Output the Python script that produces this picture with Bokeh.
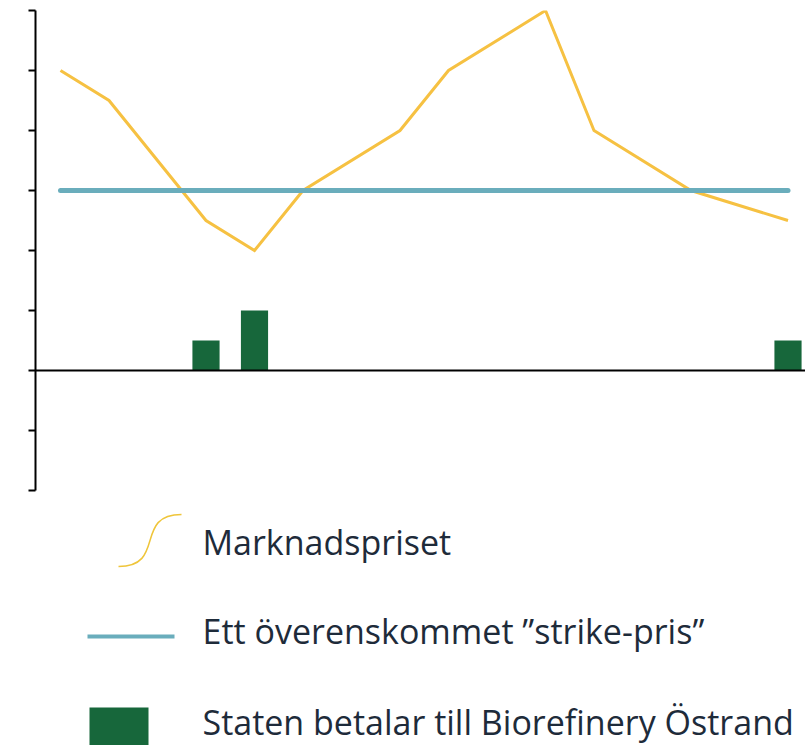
from bokeh.plotting import figure
from bokeh.models import Range1d, FixedTicker, Span
from bokeh.core.properties import value
from bokeh.embed import file_html
from bokeh.resources import INLINE

# ---- data ----
market_x = [0, 1, 3, 4, 5, 7, 8, 10, 11, 13, 15]
market_y = [5, 4.5, 2.5, 2, 3, 4, 5, 6, 4, 3, 2.5]
strike_x = [0, 15]
strike_y = [3, 3]
pay_x = [3, 4, 15]
pay_y = [0.5, 1, 0.5]
y_ticks = [-2, -1, 0, 1, 2, 3, 4, 5, 6]
legend_labels = ["Marknadspriset", "Ett överenskommet ”strike-pris”",
                 "Staten betalar till Biorefinery Östrand"]

# ---- colours ----
YELLOW = "#F6C142"
BLUE = "#6AADBC"
GREEN = "#17673B"
TEXT = "#1E2B3A"

# ---- layout (pixels) ----
FRAME_LEFT, FRAME_TOP = 35, 10          # picture coords of the frame corner
FRAME_W, FRAME_H = 770, 735
PX_PER_X, PX_PER_Y = 48.5, 60.0
X0 = -(60 - FRAME_LEFT) / PX_PER_X
Y1 = 6.0


def dx(px):
    return X0 + (px - FRAME_LEFT) / PX_PER_X


def dy(py):
    return Y1 - (py - FRAME_TOP) / PX_PER_Y


p = figure(frame_width=FRAME_W, frame_height=FRAME_H,
           x_range=Range1d(X0, X0 + FRAME_W / PX_PER_X),
           y_range=Range1d(Y1 - FRAME_H / PX_PER_Y, Y1),
           output_backend="svg", toolbar_location=None,
           x_axis_location=None, y_axis_location="left",
           min_border_left=FRAME_LEFT, min_border_top=FRAME_TOP,
           min_border_right=0, min_border_bottom=0)
p.outline_line_color = None
p.grid.visible = False
p.background_fill_color = "white"
p.border_fill_color = "white"

ax = p.yaxis[0]
ax.bounds = (min(y_ticks), max(y_ticks))
ax.ticker = FixedTicker(ticks=y_ticks, minor_ticks=[])
ax.major_tick_out = 7
ax.major_tick_in = 0
ax.minor_tick_line_color = None
ax.axis_line_width = 2
ax.major_tick_line_width = 2
ax.axis_line_color = "black"
ax.major_tick_line_color = "black"
ax.major_label_overrides = {t: "" for t in y_ticks}
ax.major_label_standoff = 0

# bars
p.vbar(x=pay_x, top=pay_y, bottom=0, width=0.56, fill_color=GREEN, line_color=None)
# market price
p.line(market_x, market_y, line_color=YELLOW, line_width=3, line_join="miter")
# strike price
p.line(strike_x, strike_y, line_color=BLUE, line_width=5, line_cap="round")
# zero line
p.add_layout(Span(location=0, dimension="width", line_color="black", line_width=2))

# ---- legend (custom) ----
p.bezier(x0=[dx(118)], y0=[dy(566)], x1=[dx(181)], y1=[dy(514)],
         cx0=[dx(166)], cy0=[dy(566)], cx1=[dx(133)], cy1=[dy(514)],
         line_color="#EFC53A", line_width=1.5)
p.line([dx(87), dx(174)], [dy(636), dy(636)], line_color=BLUE, line_width=4)
p.quad(left=[dx(89)], right=[dx(148)], top=[dy(707)], bottom=[dy(745)],
       fill_color=GREEN, line_color=None)

p.text(x=[dx(202)] * 3, y=[dy(541), dy(630), dy(721)], text=legend_labels,
       text_font=value("Open Sans"), text_font_size="34px",
       text_color=TEXT, text_baseline="alphabetic", text_align="left")

open("out.html", "w").write(file_html(p, INLINE))
